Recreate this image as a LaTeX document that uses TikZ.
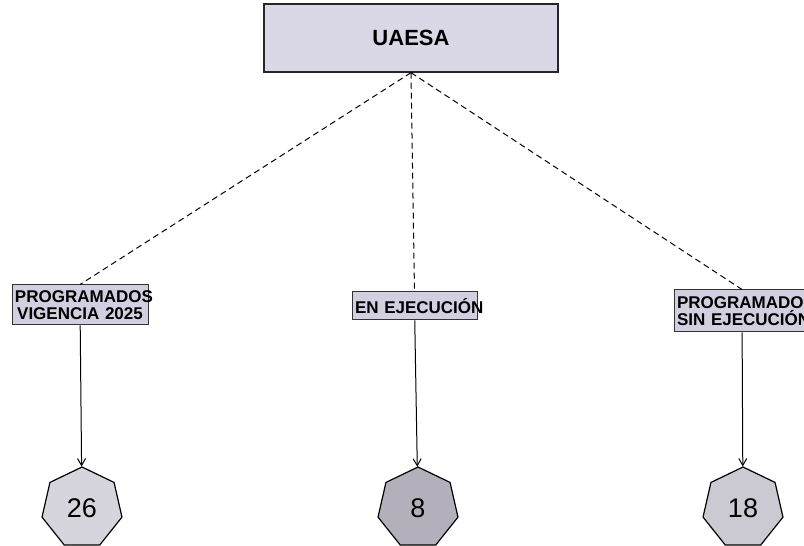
\documentclass[tikz,border=0pt]{standalone}
\usepackage{fontspec}
\setmainfont{Liberation Sans}
\usetikzlibrary{shapes.geometric, arrows.meta}
\definecolor{boxfill}{HTML}{DAD8E6}
\definecolor{tagfill}{HTML}{D2D0E0}
\definecolor{heptlight}{HTML}{D6D5DE}
\definecolor{heptdark}{HTML}{B3B0BC}
\definecolor{heptmid}{HTML}{CBCAD2}
\begin{document}
\begin{tikzpicture}[x=1pt, y=1pt,
	top/.style={draw=black!85, line width=1.3pt, fill=boxfill, minimum width=294pt, minimum height=68pt, font=\fontsize{22}{24}\selectfont\bfseries},
	tag/.style={draw=black!80, line width=1pt, fill=tagfill, inner sep=3pt, align=center, font=\fontsize{17}{17}\selectfont\bfseries},
	hept/.style={draw=black, line width=1.2pt, regular polygon, regular polygon sides=7, minimum size=82pt, inner sep=0pt, font=\fontsize{27}{28}\selectfont},
	link/.style={line width=1pt, dash pattern=on 6pt off 4pt},
	arr/.style={line width=1pt, -{Straight Barb[length=7pt, width=8pt]}}]
		\useasboundingbox[fill=white] (0,0) rectangle (804,546);
		\node[top] (UAESA) at (411,508) {UAESA};
		\node[tag, text width=130pt, minimum width=136pt, minimum height=40pt] (Programados) at (80,241) {\mbox{PROGRAMADOS}\\\mbox{VIGENCIA 2025}};
		\node[tag, text width=119pt, minimum width=125pt, minimum height=28pt] (Ejecucion) at (414.5,240) {\mbox{EN EJECUCIÓN}};
		\node[tag, text width=130pt, minimum width=136pt, minimum height=42pt] (SinEjecucion) at (742,235) {\mbox{PROGRAMADOS}\\\mbox{SIN EJECUCIÓN}};
		\node[hept, fill=heptlight] (N26) at (82,38) {26};
		\node[hept, fill=heptdark] (N8) at (418,38) {8};
		\node[hept, fill=heptmid] (N18) at (743,38) {18};
		% Dashed links
		\draw[link] (UAESA.south) -- (Programados.north);
		\draw[link] (UAESA.south) -- (Ejecucion.north);
		\draw[link] (UAESA.south) -- (SinEjecucion.north);
		% Arrows
		\draw[arr] (Programados) -- (N26);
		\draw[arr] (Ejecucion) -- (N8);
		\draw[arr] (SinEjecucion) -- (N18);
	\end{tikzpicture}
\end{document}
